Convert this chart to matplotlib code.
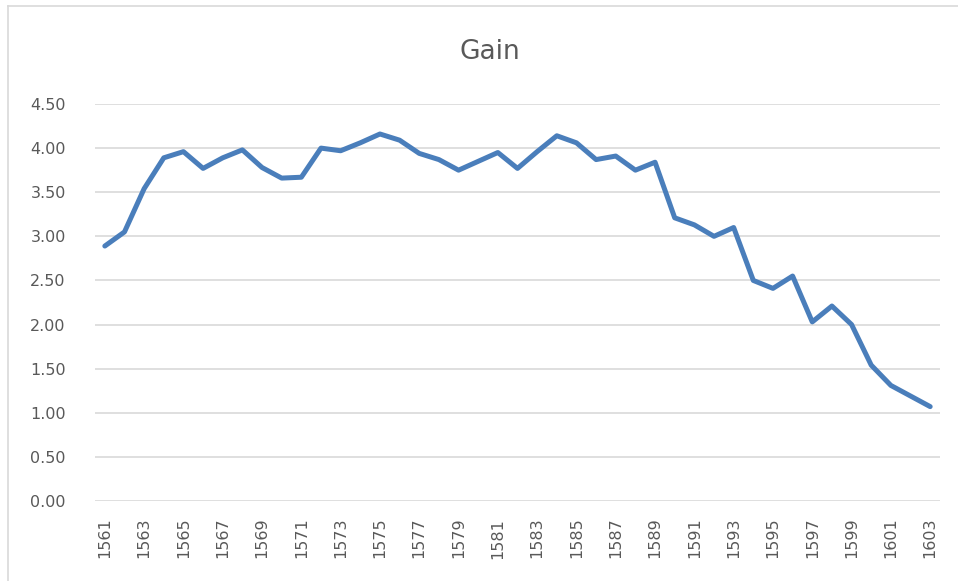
import matplotlib
matplotlib.use("Agg")
import matplotlib.pyplot as plt
import matplotlib.ticker as mticker
from matplotlib.lines import Line2D

# Données
annees = list(range(1561, 1604))
gain = [2.89, 3.05, 3.54, 3.89, 3.96, 3.77, 3.89, 3.98, 3.78, 3.66,
        3.67, 4.00, 3.97, 4.06, 4.16, 4.09, 3.94, 3.87, 3.75, 3.85,
        3.95, 3.77, 3.96, 4.14, 4.06, 3.87, 3.91, 3.75, 3.84, 3.21,
        3.13, 3.00, 3.10, 2.50, 2.41, 2.55, 2.03, 2.21, 2.00, 1.54,
        1.31, 1.19, 1.07]
yticks = [0.0, 0.5, 1.0, 1.5, 2.0, 2.5, 3.0, 3.5, 4.0, 4.5]

gris_texte = "#595959"
gris_grille = "#d9d9d9"

fig = plt.figure(figsize=(9.58, 5.81), dpi=100, facecolor="w")
ax = fig.add_axes([95 / 958, 80 / 581, 845 / 958, 397 / 581])

x = list(range(len(annees)))
ax.plot(x, gain, color="#4a7ebb", lw=3.6, solid_joinstyle="round", solid_capstyle="round", zorder=3)

ax.set_xlim(-0.5, len(annees) - 0.5)
ax.set_ylim(0, 4.5)
ax.yaxis.set_major_locator(mticker.FixedLocator(yticks))
ax.yaxis.set_major_formatter(mticker.FormatStrFormatter("%.2f"))
ax.xaxis.set_major_locator(mticker.FixedLocator(x[::2]))
ax.set_xticklabels([str(a) for a in annees[::2]], rotation=90)

for s in ax.spines.values():
    s.set_visible(False)
ax.yaxis.grid(True, color=gris_grille, lw=1.2)
ax.set_axisbelow(True)
ax.tick_params(axis="both", length=0, colors=gris_texte, labelsize=11.5)
ax.tick_params(axis="y", pad=21)
ax.tick_params(axis="x", pad=12)

fig.text(0.511, 1 - 52 / 581, "Gain", ha="center", va="center", fontsize=19, color=gris_texte)

# bordure de la zone de graphique
fig.add_artist(Line2D([7.5 / 958, 7.5 / 958], [0, 1 - 5.5 / 581], color=gris_grille, lw=1.2, transform=fig.transFigure))
fig.add_artist(Line2D([7.5 / 958, 1], [1 - 5.5 / 581, 1 - 5.5 / 581], color=gris_grille, lw=1.2, transform=fig.transFigure))

plt.savefig("out.png", dpi=100)
plt.close()
